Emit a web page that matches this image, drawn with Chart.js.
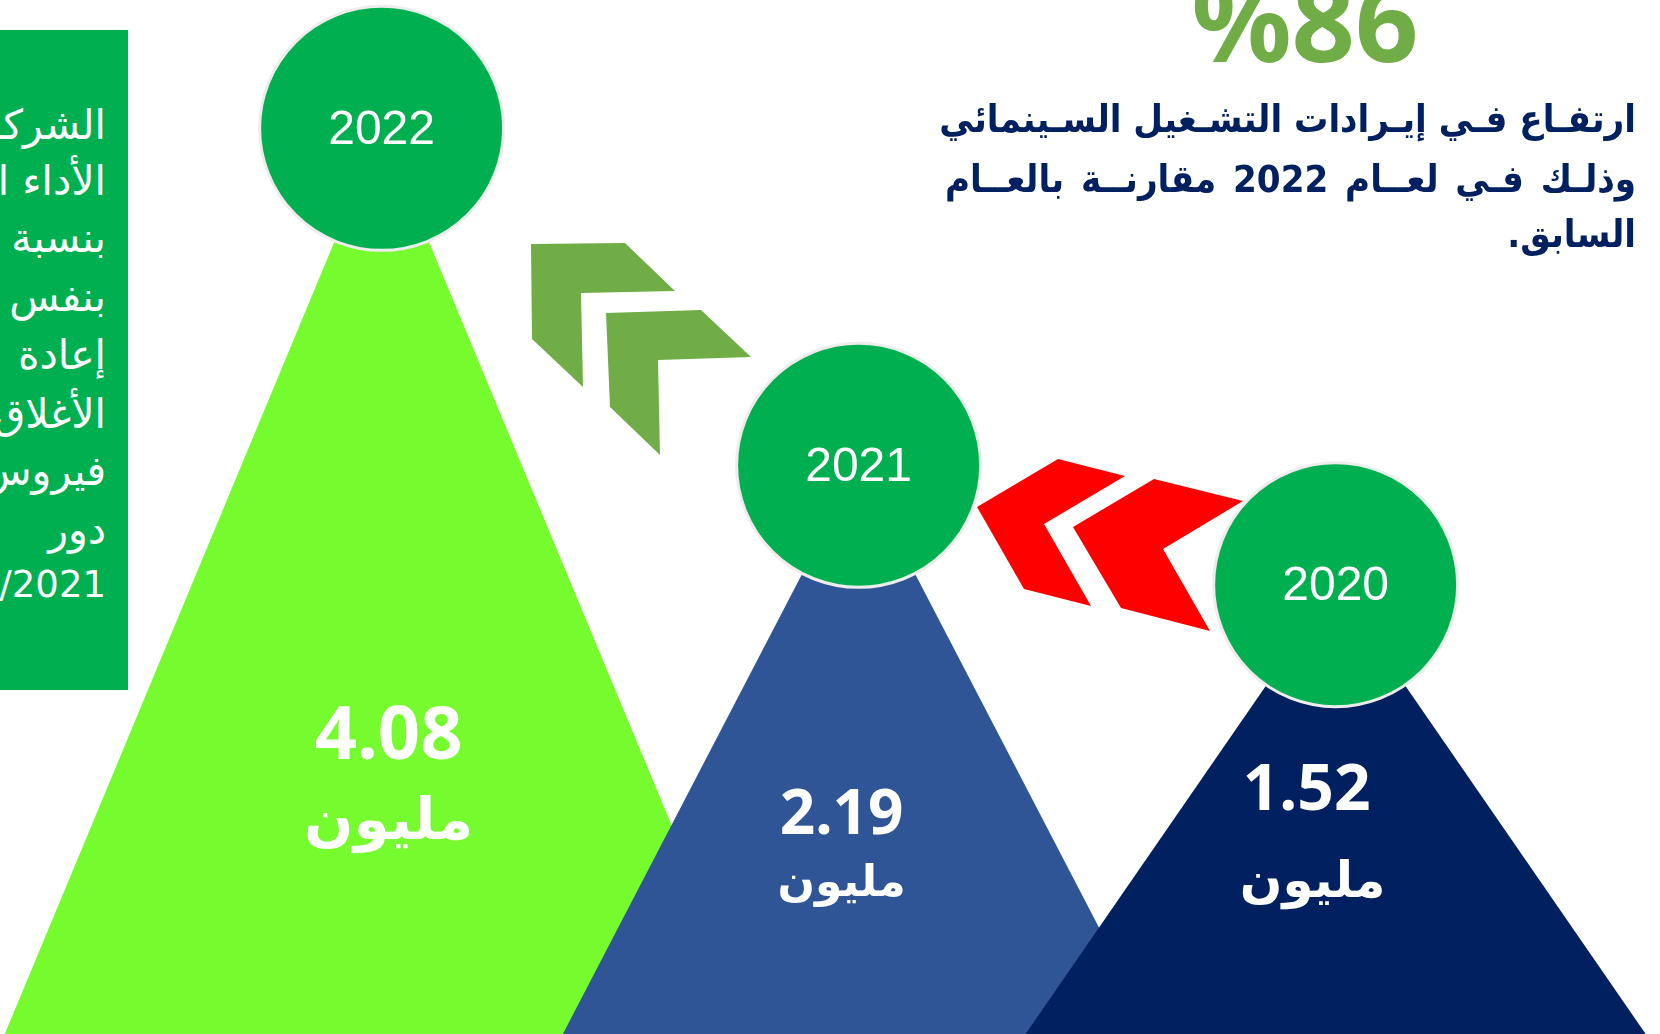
<!DOCTYPE html>
<html lang="ar">
<head>
<meta charset="utf-8">
<title>إيرادات التشغيل السينمائي</title>
<script src="https://cdn.jsdelivr.net/npm/chart.js@4.4.1/dist/chart.umd.min.js"></script>
<style>
  html, body { margin: 0; padding: 0; background: #fff; }
  body { width: 1660px; height: 1034px; position: relative; overflow: hidden; }
  #chartBox { position: absolute; left: 0; top: 0; width: 1660px; height: 1034px; }

  /* green side note, cut by the left edge */
  .side { position: absolute; left: 0; top: 30px; width: 128px; height: 660px; background: #00B050; overflow: hidden; }
  .side div { position: absolute; right: 22px; height: 50px; line-height: 50px; white-space: nowrap;
              direction: rtl; color: #fff; font: 41px "DejaVu Sans", sans-serif; }

  .big { position: absolute; left: 1100px; top: -36px; width: 410px; text-align: center; direction: ltr;
         font: bold 111px "Noto Sans", sans-serif; line-height: 111px; color: #70AD47; }
  .note div { position: absolute; left: 945px; width: 691px; height: 56px; line-height: 56px; direction: rtl;
              white-space: nowrap; font: bold 38px "DejaVu Sans Condensed", "DejaVu Sans", sans-serif; color: #002060; }
  .note .j { text-align: justify; text-align-last: justify; }
  .note .r { text-align: right; }
</style>
</head>
<body>
<div id="chartBox"><canvas id="peaks"></canvas></div>

<div class="side">
  <div style="top:71px">الشركة</div>
  <div style="top:127px">الأداء المالي</div>
  <div style="top:184px">بنسبة</div>
  <div style="top:243px">بنفس</div>
  <div style="top:301px">إعادة</div>
  <div style="top:360px">الأغلاق</div>
  <div style="top:417px">فيروس</div>
  <div style="top:476px">دور</div>
  <div style="top:533px; font-size:37px">2020/2021</div>
</div>

<div class="big">%86</div>
<div class="note">
  <div class="j" style="top:97px">ارتفـاع فـي إيـرادات التشـغيل السـينمائي</div>
  <div class="j" style="top:157px">وذلـك فـي لعــام 2022 مقارنــة بالعــام</div>
  <div class="r" style="top:212px">السابق.</div>
</div>

<script>
// data
const years = ['2020', '2021', '2022'];
const revenue = [1.52, 2.19, 4.08];
const unitLabel = 'مليون';

// styles
const peakColors = ['#002060', '#2F5597', '#76FB2E'];
const halfBase = [0.65, 0.62, 0.79];
const Y_FLOOR = -1;

// label placement, per year (offset from circle centre, baselines in px)
const labelStyle = [
  { dx: -29, numSize: 64, numBase: 810, udx: -23, unitSize: 50, unitBase: 897 },
  { dx: -17, numSize: 62, numBase: 834, udx: -17, unitSize: 44, unitBase: 896 },
  { dx: 7,   numSize: 74, numBase: 759, udx: 7,   unitSize: 58, unitBase: 839 }
];

// decorative chevrons (px)
const greenChevrons = [
  [[531,244],[625,243],[675,291],[581,293],[583,387],[532,339]],
  [[606,313],[701,310],[751,357],[658,360],[660,455],[610,407]]
];
const redChevrons = [
  [[1058,459],[1125,476],[1044,524],[1091,606],[1024,589],[977,507]],
  [[1154,479],[1243,501],[1163,549],[1210,631],[1121,608],[1073,527]]
];

const triangles = years.map((y, i) => ({
  label: y,
  data: [
    { x: i - halfBase[i], y: Y_FLOOR },
    { x: i, y: revenue[i] },
    { x: i + halfBase[i], y: Y_FLOOR }
  ],
  backgroundColor: peakColors[i],
  borderColor: 'transparent',
  borderWidth: 0,
  pointRadius: 0,
  tension: 0,
  fill: 'start',
  order: i + 1
}));

const circles = {
  label: 'years',
  data: revenue.map((v, i) => ({ x: i, y: v })),
  showLine: false,
  pointRadius: 122,
  pointHoverRadius: 122,
  pointBackgroundColor: '#00B050',
  pointBorderColor: '#EDEDED',
  pointBorderWidth: 3,
  clip: false,
  order: 0
};

function polygon(ctx, pts) {
  ctx.beginPath();
  pts.forEach((p, k) => k ? ctx.lineTo(p[0], p[1]) : ctx.moveTo(p[0], p[1]));
  ctx.closePath();
  ctx.fill();
}

const decor = {
  id: 'decor',
  beforeDatasetsDraw(chart) {
    const ctx = chart.ctx;
    ctx.save();
    ctx.fillStyle = '#70AD47';
    greenChevrons.forEach(p => polygon(ctx, p));
    ctx.fillStyle = '#FF0000';
    redChevrons.forEach(p => polygon(ctx, p));
    ctx.restore();
  },
  afterDatasetsDraw(chart) {
    const ctx = chart.ctx;
    const xs = chart.scales.x, ys = chart.scales.y;
    ctx.save();
    ctx.fillStyle = '#fff';
    ctx.textAlign = 'center';
    years.forEach((yr, i) => {
      const cx = xs.getPixelForValue(i);
      const cy = ys.getPixelForValue(revenue[i]);
      const s = labelStyle[i];
      ctx.textBaseline = 'middle';
      ctx.font = '48px "Liberation Sans"';
      ctx.fillText(yr, cx, cy + 2);
      ctx.textBaseline = 'alphabetic';
      ctx.font = 'bold ' + s.numSize + 'px "Noto Sans"';
      ctx.fillText(revenue[i].toFixed(2), cx + s.dx, s.numBase);
      ctx.font = 'bold ' + s.unitSize + 'px "DejaVu Sans"';
      ctx.direction = 'rtl';
      ctx.fillText(unitLabel, cx + s.udx, s.unitBase);
      ctx.direction = 'ltr';
    });
    ctx.restore();
  }
};

new Chart(document.getElementById('peaks'), {
  type: 'line',
  data: { datasets: [circles].concat(triangles) },
  options: {
    responsive: true,
    maintainAspectRatio: false,
    animation: false,
    layout: { padding: 0, autoPadding: false },
    plugins: { legend: { display: false }, tooltip: { enabled: false } },
    events: [],
    scales: {
      x: { type: 'linear', reverse: true, min: -0.68, max: 2.8, display: false },
      y: { type: 'linear', min: Y_FLOOR, max: 4.8, display: false }
    }
  },
  plugins: [decor]
});
</script>
</body>
</html>
